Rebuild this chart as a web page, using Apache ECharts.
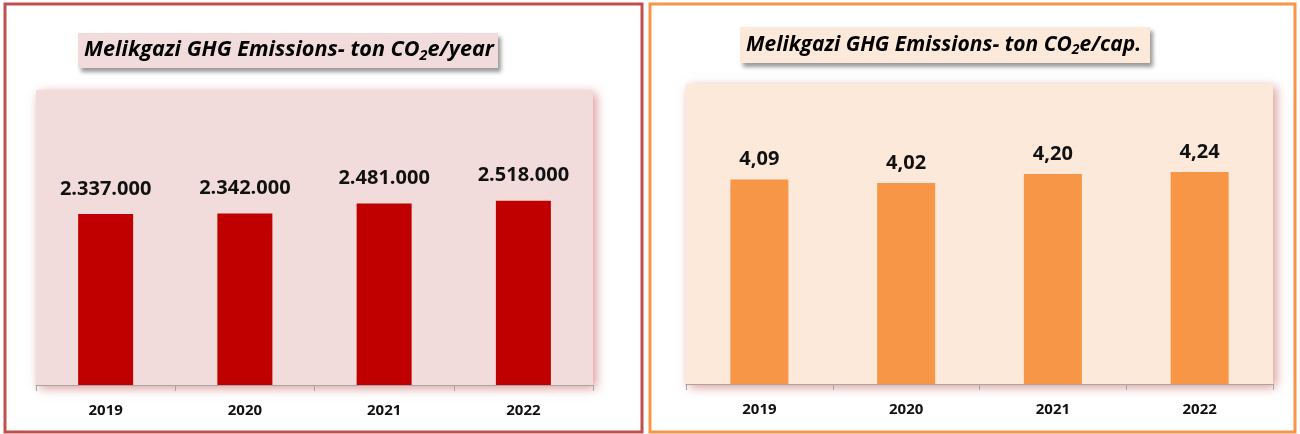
<!DOCTYPE html>
<html>
<head>
<meta charset="utf-8">
<script src="https://cdn.jsdelivr.net/npm/echarts@6/dist/echarts.min.js"></script>
<style>
  html, body { margin: 0; padding: 0; background: #fff; }
  #chart { width: 1300px; height: 434px; }
</style>
</head>
<body>
<div id="chart"></div>
<script>
  // data
  const years = ['2019', '2020', '2021', '2022']
  const totalEmissions = [2337000, 2342000, 2481000, 2518000]
  const perCapita = [4.09, 4.02, 4.20, 4.24]

  const FONT = '"Open Sans", "Noto Sans", sans-serif'

  function fmtThousands(v) {
    return String(v).replace(/\B(?=(\d{3})+(?!\d))/g, '.')
  }
  function fmtDecimal(v) {
    return v.toFixed(2).replace('.', ',')
  }

  const myChart = echarts.init(document.getElementById('chart'))

  function titleBox(x, y, w, h, bg, main, tail, sx) {
    return {
      type: 'group',
      left: x,
      top: y,
      children: [
        {
          type: 'rect',
          shape: { x: 0, y: 0, width: w, height: h },
          style: { fill: bg, shadowBlur: 4, shadowOffsetX: 3, shadowOffsetY: 4, shadowColor: 'rgba(0,0,0,0.4)' }
        },
        {
          type: 'text',
          x: 6,
          y: h / 2,
          scaleX: sx,
          style: {
            text: '{m|' + main + '}{s|2}{m|' + tail + '}',
            verticalAlign: 'middle',
            rich: {
              m: { fontFamily: FONT, fontSize: 21, fontWeight: 'bold', fontStyle: 'italic', fill: '#000' },
              s: { fontFamily: FONT, fontSize: 14, fontWeight: 'bold', fontStyle: 'italic', fill: '#000', padding: [11, 0, 0, 0] }
            }
          }
        }
      ]
    }
  }

  const catAxis = (gridIndex) => ({
    type: 'category',
    gridIndex,
    data: years,
    axisLine: { lineStyle: { color: '#a6a6a6', width: 1 } },
    axisTick: { show: true, length: 6, lineStyle: { color: '#a6a6a6' } },
    axisLabel: { color: '#111', fontFamily: FONT, fontWeight: 'bold', fontSize: 15, margin: 18 }
  })

  const valAxis = (gridIndex, max) => ({
    type: 'value',
    gridIndex,
    min: 0,
    max,
    show: false,
    splitLine: { show: false }
  })

  const option = {
    backgroundColor: '#fff',
    animation: false,
    grid: [
      {
        left: 36, top: 90, width: 557, height: 295,
        show: true, backgroundColor: '#f2dcdb', borderWidth: 0,
        shadowBlur: 10, shadowColor: 'rgba(192,80,77,0.6)', shadowOffsetX: 3, shadowOffsetY: 3
      },
      {
        left: 686, top: 84, width: 587, height: 300,
        show: true, backgroundColor: '#fde9d9', borderWidth: 0,
        shadowBlur: 10, shadowColor: 'rgba(192,80,77,0.6)', shadowOffsetX: 3, shadowOffsetY: 3
      }
    ],
    xAxis: [catAxis(0), catAxis(1)],
    yAxis: [valAxis(0, 4030000), valAxis(1, 6)],
    series: [
      {
        type: 'bar',
        xAxisIndex: 0,
        yAxisIndex: 0,
        data: totalEmissions,
        barWidth: 55,
        itemStyle: { color: '#c00000' },
        label: {
          show: true, position: 'top', distance: 15,
          fontFamily: FONT, fontWeight: 'bold', fontSize: 20, color: '#111',
          formatter: (p) => fmtThousands(p.value)
        }
      },
      {
        type: 'bar',
        xAxisIndex: 1,
        yAxisIndex: 1,
        data: perCapita,
        barWidth: 58,
        itemStyle: { color: '#f79646' },
        label: {
          show: true, position: 'top', distance: 10,
          fontFamily: FONT, fontWeight: 'bold', fontSize: 20, color: '#111',
          formatter: (p) => fmtDecimal(p.value)
        }
      }
    ],
    graphic: [
      {
        type: 'rect',
        shape: { x: 5, y: 4, width: 637, height: 428 },
        style: { fill: 'none', stroke: '#c0504d', lineWidth: 3 },
        z: 100
      },
      {
        type: 'rect',
        shape: { x: 650, y: 4, width: 645, height: 428 },
        style: { fill: 'none', stroke: '#f79646', lineWidth: 3 },
        z: 100
      },
      titleBox(78, 33, 420, 35, '#f2dcdb', 'Melikgazi GHG Emissions- ton CO', 'e/year', 1.03),
      titleBox(740, 27, 410, 36, '#fde9d9', 'Melikgazi GHG Emissions- ton CO', 'e/cap.', 1.0)
    ]
  }

  myChart.setOption(option)
</script>
</body>
</html>
